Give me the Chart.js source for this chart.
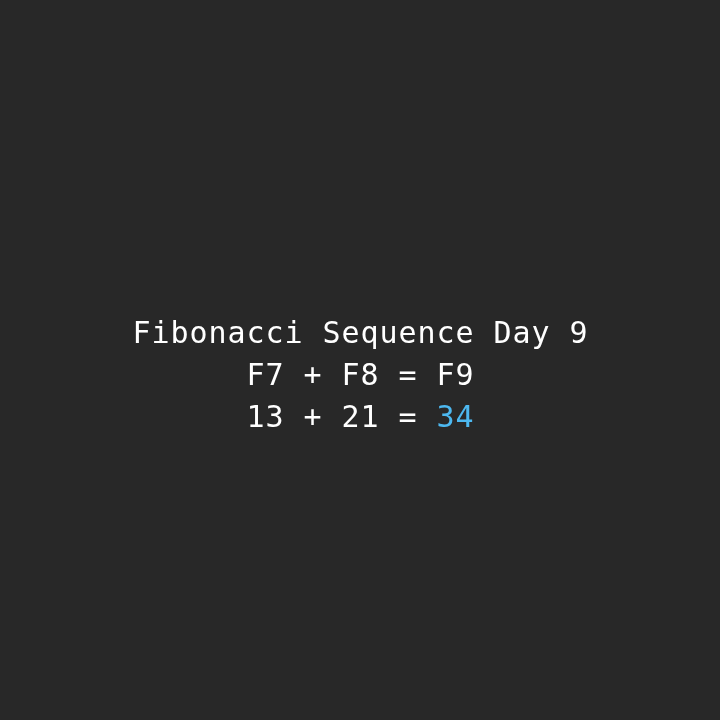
<!DOCTYPE html>
<html>
<head>
  <meta charset="UTF-8">
  <title>Fibonacci Sequence Day 9</title>
  <script src="https://cdn.jsdelivr.net/npm/chart.js"></script>
  <style>
    html, body {
      margin: 0;
      padding: 0;
      background: #282828;
    }
  </style>
</head>
<body>
  <canvas id="fibChart" width="720" height="720"></canvas>
  <script>
    const dayNumber = 9;
    const termNames = ['F7', 'F8', 'F9'];
    const termValues = [13, 21, 34];

    const textFont = '30px "DejaVu Sans Mono", "Liberation Mono", monospace';
    const white = '#ffffff';
    const blue = '#4db8f0';
    const charStep = 19; // fixed advance per character, wide monospace look

    // draws the three centred lines of text, one character at a time
    const textPlugin = {
      id: 'fibText',
      beforeDraw(chart) {
        const ctx = chart.ctx;
        ctx.save();
        ctx.fillStyle = '#282828';
        ctx.fillRect(0, 0, chart.width, chart.height);
        ctx.restore();
      },
      afterDraw(chart) {
        const ctx = chart.ctx;
        const cx = chart.width / 2;
        ctx.save();
        ctx.font = textFont;
        ctx.textBaseline = 'alphabetic';
        ctx.textAlign = 'center';

        const lines = [
          [['Fibonacci Sequence Day ' + dayNumber, white]],
          [[termNames[0] + ' + ' + termNames[1] + ' = ' + termNames[2], white]],
          [[termValues[0] + ' + ' + termValues[1] + ' = ', white], [String(termValues[2]), blue]]
        ];
        const baselines = [343, 385, 427];

        lines.forEach((parts, i) => {
          const n = parts.reduce((c, p) => c + p[0].length, 0);
          let x = cx - (n * charStep) / 2 + charStep / 2;
          parts.forEach(p => {
            ctx.fillStyle = p[1];
            for (const ch of p[0]) {
              ctx.fillText(ch, x, baselines[i]);
              x += charStep;
            }
          });
        });
        ctx.restore();
      }
    };

    new Chart(document.getElementById('fibChart'), {
      type: 'bar',
      data: {
        labels: termNames,
        datasets: [{
          data: termValues,
          backgroundColor: 'rgba(0,0,0,0)',
          borderWidth: 0
        }]
      },
      options: {
        responsive: false,
        animation: false,
        events: [],
        plugins: {
          legend: { display: false },
          tooltip: { enabled: false }
        },
        scales: {
          x: { display: false },
          y: { display: false }
        }
      },
      plugins: [textPlugin]
    });
  </script>
</body>
</html>
